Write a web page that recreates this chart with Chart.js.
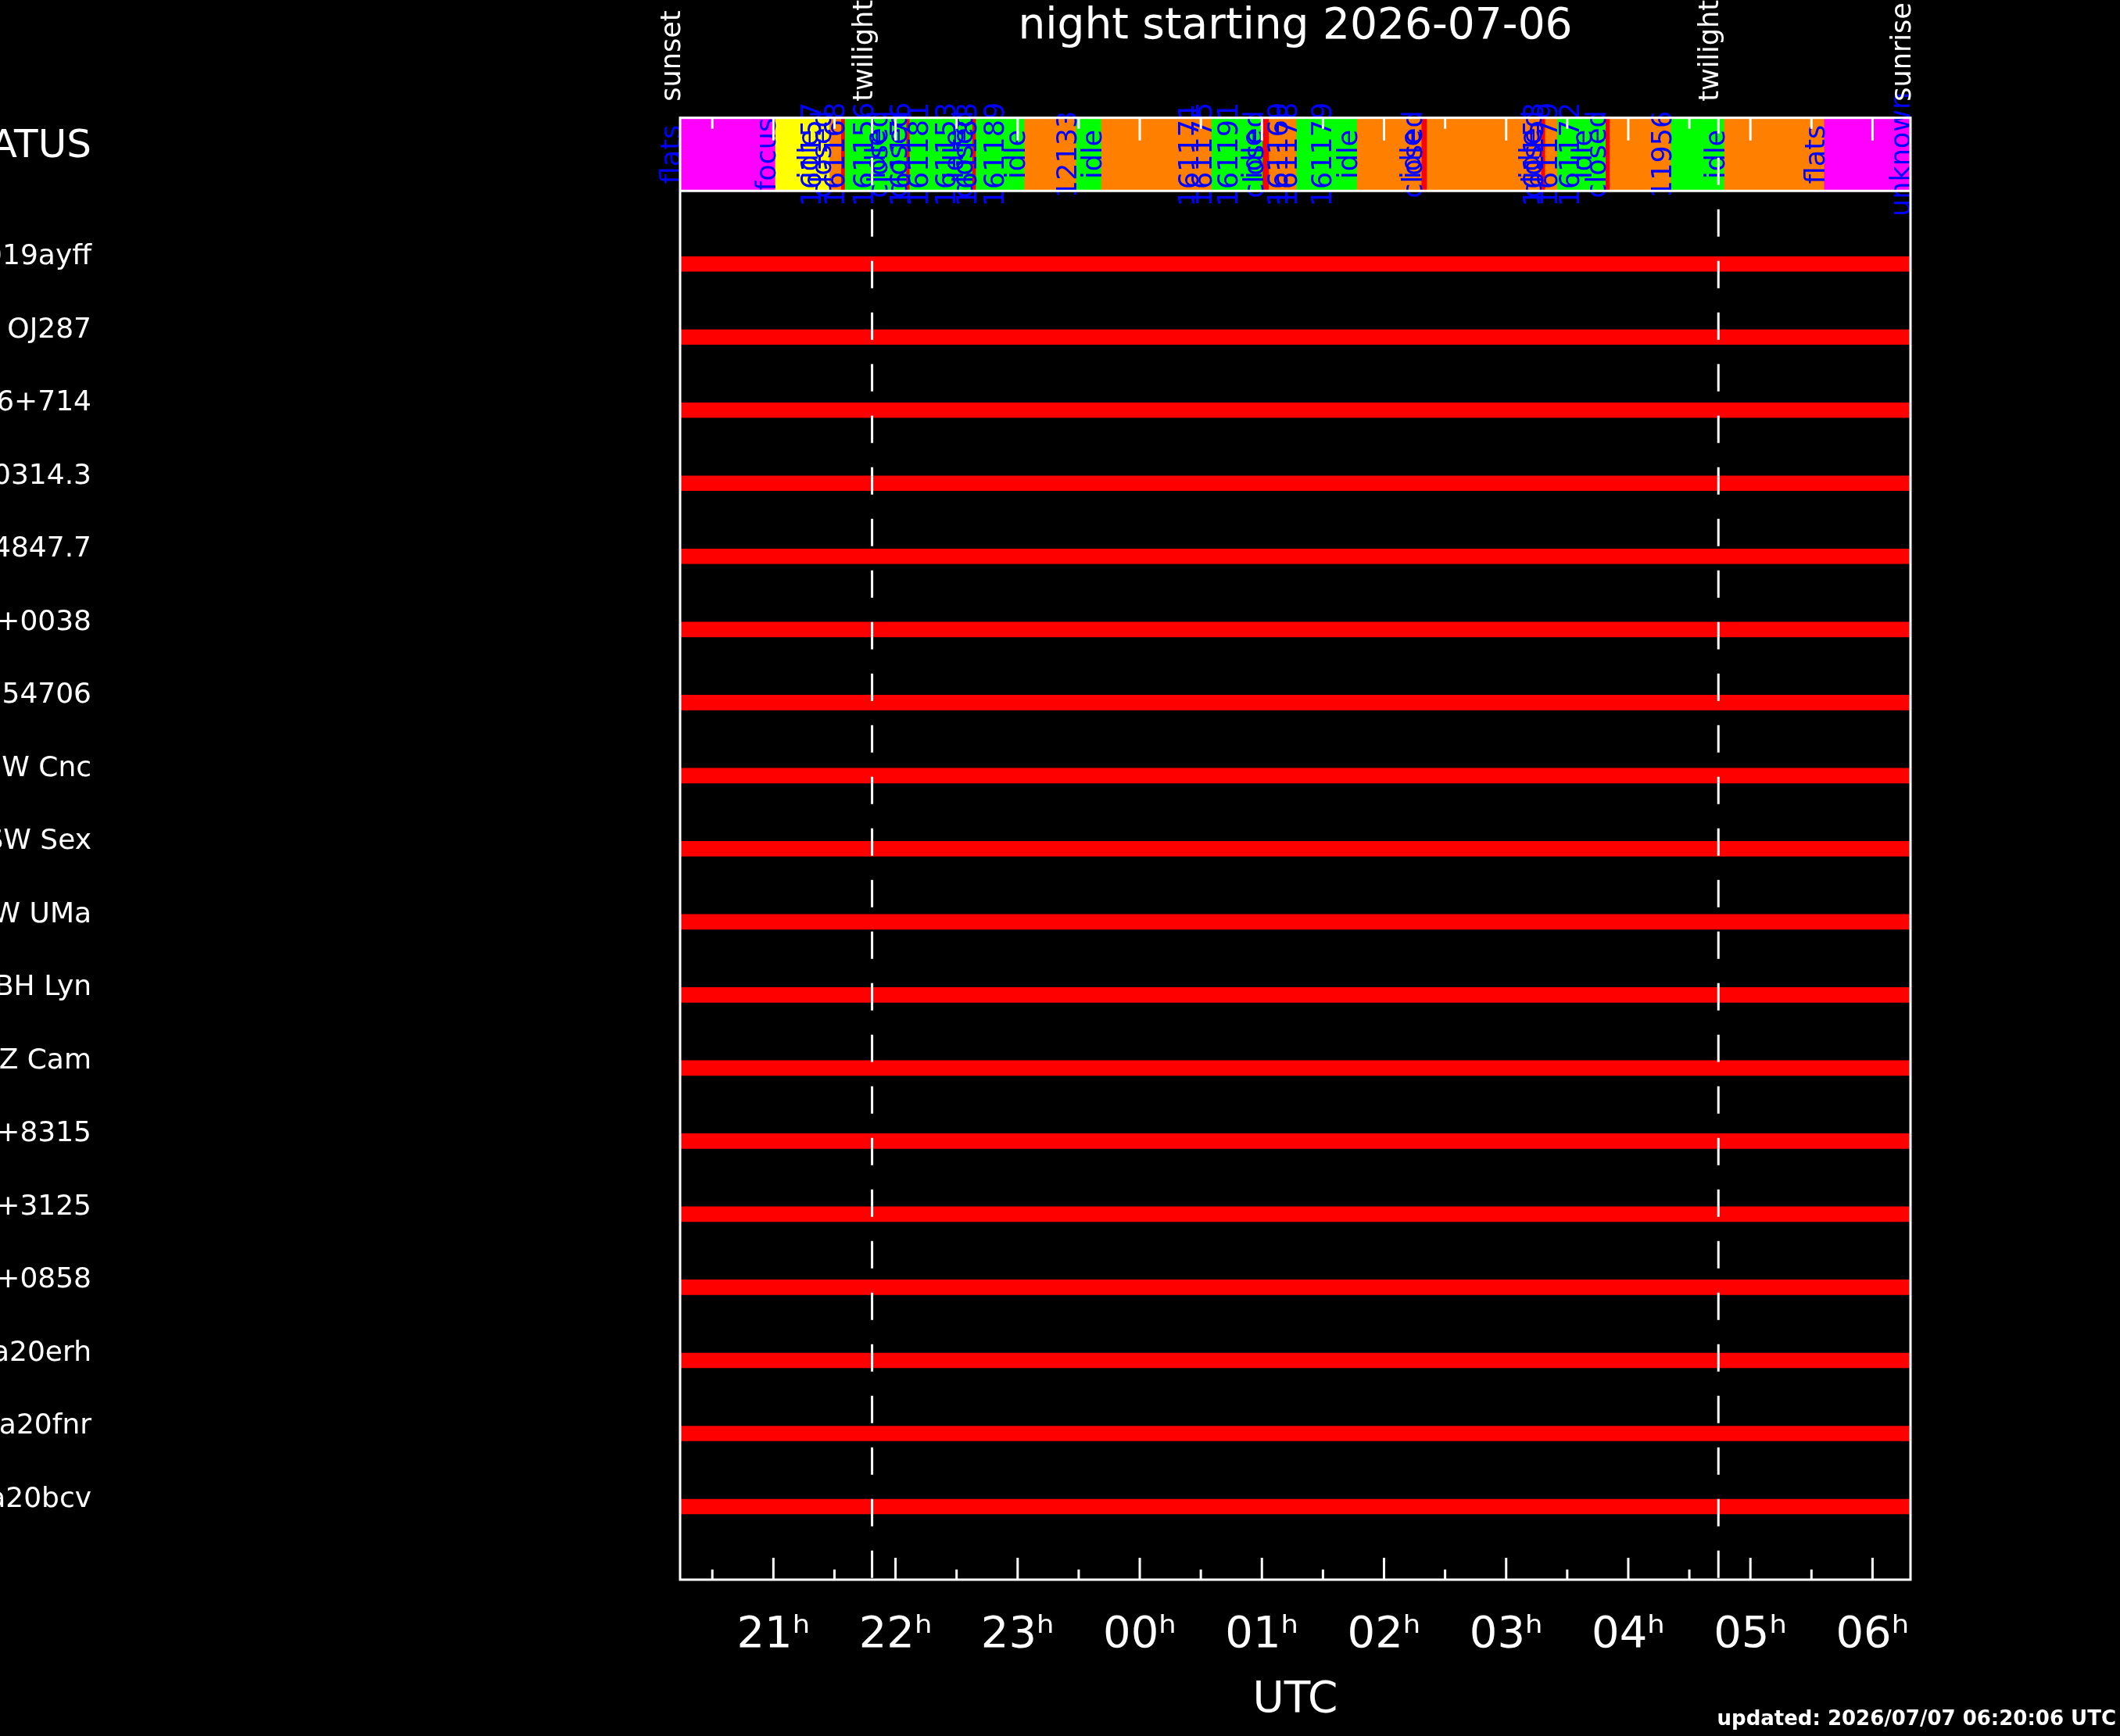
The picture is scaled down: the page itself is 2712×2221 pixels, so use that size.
<!DOCTYPE html>
<html>
<head>
<meta charset="utf-8">
<title>night starting 2026-07-06</title>
<script src="https://cdn.jsdelivr.net/npm/chart.js@4.4.1/dist/chart.umd.min.js"></script>
<style>
  html, body { margin: 0; padding: 0; background: #000; }
  #wrap { width: 2712px; height: 2221px; }
</style>
</head>
<body>
<div id="wrap"><canvas id="night" width="2712" height="2221"></canvas></div>
<script>
// NIGHT EVENTS (UTC hours, after midnight counted as 24+)
const eventNames = ['sunset', 'twilight', 'twilight', 'sunrise'];
const eventHours = [20.236, 21.808, 28.738, 30.311];

// X AXIS TICKS
const hourTicks = [21, 22, 23, 24, 25, 26, 27, 28, 29, 30];
const hourLabels = ['21ʰ', '22ʰ', '23ʰ', '00ʰ', '01ʰ', '02ʰ', '03ʰ', '04ʰ', '05ʰ', '06ʰ'];

// TARGETS (one row each)
const targetNames = [
  'AT2019ayff', 'OJ287', 'S5 0716+714', 'RX J0314.3', 'RX J4847.7', 'J1553+0038',
  'TIC 154706', 'SW Cnc', 'SW Sex', 'DW UMa', 'BH Lyn', 'Z Cam',
  'J0644+8315', 'J1012+3125', 'J1043+0858', 'Gaia20erh', 'Gaia20fnr', 'Gaia20bcv'
];
const targetStart = [20.24, 20.24, 20.24, 20.24, 20.24, 20.24, 20.24, 20.24, 20.24,
                     20.24, 20.24, 20.24, 20.24, 20.24, 20.24, 20.24, 20.24, 20.24];
const targetEnd = [30.31, 30.31, 30.31, 30.31, 30.31, 30.31, 30.31, 30.31, 30.31,
                   30.31, 30.31, 30.31, 30.31, 30.31, 30.31, 30.31, 30.31, 30.31];

// STATUS BAR FILLS
const statusStart = [20.236, 21.017, 21.461, 21.557, 21.587, 22.090, 22.117, 22.631, 22.660,
                     23.057, 23.480, 23.686, 24.589, 25.008, 25.059, 25.284, 25.780, 26.309,
                     26.353, 27.288, 27.321, 27.420, 27.817, 27.850, 28.350, 28.786, 29.606];
const statusEnd = [21.017, 21.461, 21.557, 21.587, 22.090, 22.117, 22.631, 22.660, 23.057,
                   23.480, 23.686, 24.589, 25.008, 25.059, 25.284, 25.780, 26.309, 26.353,
                   27.288, 27.321, 27.420, 27.817, 27.850, 28.350, 28.786, 29.606, 30.311];
const statusColor = ['#ff00ff', '#ffff00', '#ff8000', '#ff0000', '#00ff00', '#ff0000', '#00ff00', '#ff0000', '#00ff00',
                     '#ff8000', '#00ff00', '#ff8000', '#00ff00', '#ff0000', '#ff8000', '#00ff00', '#ff8000', '#ff0000',
                     '#ff8000', '#ff0000', '#ff8000', '#00ff00', '#ff0000', '#ff8000', '#00ff00', '#ff8000', '#ff00ff'];

// STATUS BAR LABELS
const statusLabelHour = [20.236, 21.017, 21.363, 21.385, 21.473, 21.583, 21.815, 21.914, 21.930,
                         22.090, 22.117, 22.267, 22.487, 22.550, 22.631, 22.660, 22.885, 23.057,
                         23.480, 23.686, 24.479, 24.589, 24.799, 25.000, 25.008, 25.207, 25.284,
                         25.570, 25.780, 26.300, 26.309, 27.270, 27.288, 27.300, 27.420, 27.596,
                         27.700, 27.817, 28.350, 28.786, 29.606, 30.307];
const statusLabelText = ['flats', 'focus', 'idle', '161157', 'closed', '161168', '161156', 'idle', 'closed',
                         'closed', '161176', '161181', '161153', 'idle', 'closed', '161183', '161189', 'idle',
                         '12133', 'idle', '161171', '161175', '161191', 'idle', 'closed', '161169', '161178',
                         '161179', 'idle', 'idle', 'closed', 'idle', 'closed', '161153', '161179', '161172',
                         'idle', 'closed', '11956', 'idle', 'flats', 'unknown'];

const updatedText = 'updated: 2026/07/07 06:20:06 UTC';

// ROWS: status sits between -1 and 0, targets on 1..18
const rowTicks = [-0.5].concat(targetNames.map((n, i) => i + 1));
const rowNames = ['STATUS'].concat(targetNames);

Chart.defaults.font.family = '"DejaVu Sans", sans-serif';
Chart.defaults.color = '#fff';

// FRAME, TICKS, TWILIGHT LINES AND ROTATED LABELS
const nightFrame = {
  id: 'nightFrame',
  afterDatasetsDraw(chart) {
    const {ctx, chartArea: a, scales: {x, y}} = chart;
    const statusTop = y.getPixelForValue(-1);
    const statusBottom = y.getPixelForValue(0);
    const statusMid = y.getPixelForValue(-0.5);
    ctx.save();

    // blue status labels, reading upwards, ending at the segment start
    ctx.fillStyle = '#0000ff';
    ctx.font = '35px "DejaVu Sans"';
    ctx.textAlign = 'center';
    ctx.textBaseline = 'alphabetic';
    statusLabelHour.forEach((h, i) => {
      ctx.save();
      ctx.translate(x.getPixelForValue(h), statusMid);
      ctx.rotate(-Math.PI / 2);
      ctx.fillText(statusLabelText[i], 0, 0);
      ctx.restore();
    });

    // frame
    ctx.strokeStyle = '#fff';
    ctx.lineWidth = 3;
    ctx.strokeRect(a.left, a.top, a.right - a.left, a.bottom - a.top);
    ctx.beginPath();
    ctx.moveTo(a.left, statusBottom);
    ctx.lineTo(a.right, statusBottom);
    ctx.stroke();

    // hour ticks (bottom up, status top down), half hours shorter
    ctx.beginPath();
    hourTicks.forEach(h => {
      const px = x.getPixelForValue(h);
      ctx.moveTo(px, a.bottom); ctx.lineTo(px, a.bottom - 28);
      ctx.moveTo(px, statusTop); ctx.lineTo(px, statusTop + 29);
      const mx = x.getPixelForValue(h - 0.5);
      ctx.moveTo(mx, a.bottom); ctx.lineTo(mx, a.bottom - 13);
      ctx.moveTo(mx, statusTop); ctx.lineTo(mx, statusTop + 14);
    });
    ctx.stroke();

    // twilight dashed lines
    ctx.setLineDash([35, 31]);
    ctx.lineDashOffset = 15;
    eventNames.forEach((n, i) => {
      if (n !== 'twilight') return;
      const px = x.getPixelForValue(eventHours[i]);
      ctx.beginPath();
      ctx.moveTo(px, statusTop);
      ctx.lineTo(px, a.bottom);
      ctx.stroke();
    });
    ctx.setLineDash([]);

    // event names above the status bar
    ctx.fillStyle = '#fff';
    ctx.font = '35px "DejaVu Sans"';
    ctx.textAlign = 'left';
    eventNames.forEach((n, i) => {
      ctx.save();
      ctx.translate(x.getPixelForValue(eventHours[i]), statusTop - 21);
      ctx.rotate(-Math.PI / 2);
      ctx.fillText(n, 0, 0);
      ctx.restore();
    });

    // update stamp
    ctx.font = 'bold 26px "DejaVu Sans"';
    ctx.textAlign = 'right';
    ctx.textBaseline = 'middle';
    ctx.fillText(updatedText, 2707, 2200);
    ctx.restore();
  }
};

let nightChart = new Chart(document.getElementById('night'), {
  type: 'bar',
  data: {
    datasets: [{
      label: 'status',
      data: statusStart.map((s, i) => ({x: [s, statusEnd[i]], y: -0.5})),
      backgroundColor: statusColor,
      borderWidth: 0,
      barThickness: 93.5,
      grouped: false
    }, {
      label: 'targets',
      data: targetStart.map((s, i) => ({x: [s, targetEnd[i]], y: i + 1})),
      backgroundColor: '#ff0000',
      borderWidth: 0,
      barThickness: 19,
      grouped: false
    }]
  },
  options: {
    responsive: false,
    devicePixelRatio: 1,
    animation: false,
    indexAxis: 'y',
    layout: { padding: { left: 0, right: 268, top: 0, bottom: 0 } },
    plugins: {
      legend: { display: false },
      tooltip: { enabled: false },
      title: {
        display: true,
        text: 'night starting 2026-07-06',
        color: '#fff',
        fullSize: false,
        font: { size: 55, weight: 'normal' },
        padding: { top: 2, bottom: 82.7 }
      }
    },
    scales: {
      x: {
        type: 'linear',
        min: eventHours[0],
        max: eventHours[3],
        grid: { display: false, drawTicks: false },
        border: { display: false },
        afterBuildTicks: s => { s.ticks = hourTicks.map(v => ({value: v})); },
        afterFit: s => { s.height = 200; s.paddingLeft = 0; s.paddingRight = 0; },
        ticks: {
          color: '#fff',
          font: { size: 56 },
          padding: 38,
          autoSkip: false,
          maxRotation: 0,
          callback: v => hourLabels[hourTicks.indexOf(v)]
        },
        title: {
          display: true,
          text: 'UTC',
          color: '#fff',
          font: { size: 55 },
          padding: { top: 0, bottom: 12 }
        }
      },
      y: {
        type: 'linear',
        reverse: true,
        offset: false,
        min: -1,
        max: 19,
        grid: { display: false, drawTicks: false },
        border: { display: false },
        afterBuildTicks: s => { s.ticks = rowTicks.map(v => ({value: v})); },
        // labels sit far to the left; keep the big padding out of the vertical margins
        afterFit: s => { s.width = 870; s.paddingTop = 0; s.paddingBottom = 0; },
        ticks: {
          color: '#fff',
          padding: 753,
          labelOffset: -9,
          autoSkip: false,
          font: ctx => ({ size: ctx.tick && ctx.tick.value < 0 ? 50 : 36 }),
          callback: v => rowNames[rowTicks.indexOf(v)]
        }
      }
    }
  },
  plugins: [nightFrame]
});
</script>
</body>
</html>
